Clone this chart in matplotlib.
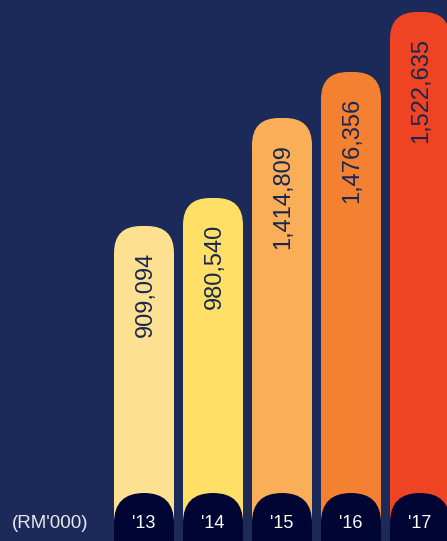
import matplotlib.pyplot as plt
from matplotlib.patches import FancyBboxPatch

plt.rcParams['font.family'] = ['Liberation Sans', 'DejaVu Sans']

# Chart data
years = ["'13", "'14", "'15", "'16", "'17"]
values = [909094, 980540, 1414809, 1476356, 1522635]
# drawn bar heights as they appear in the source (not to scale with values)
bar_heights = [315, 343, 423, 469, 529]
bar_colors = ['#FEE190', '#FFDF66', '#FBAE58', '#F48032', '#EF4424']
unit_label = "(RM'000)"

BG = '#1B2A58'
CAP = '#000533'

W, H = 447, 541
fig = plt.figure(figsize=(W / 100, H / 100), dpi=100)
fig.patch.set_facecolor(BG)
ax = fig.add_axes([0, 0, 1, 1])
ax.set_facecolor(BG)

pitch = 69.0          # pixels between bar centres
first_center = 144.0  # pixel x of the first bar
bar_w = 60 / pitch
ax.set_xlim(-first_center / pitch, (W - first_center) / pitch)
ax.set_ylim(0, H)
ax.axis('off')

aspect = pitch  # y units per pixel / x units per pixel

for i, (h, val, col, yr) in enumerate(zip(bar_heights, values, bar_colors, years)):
    left = i - bar_w / 2
    # main bar with rounded top (bottom corners hidden below axis)
    bar = FancyBboxPatch((left, -60), bar_w, h + 60,
                         boxstyle=f"round,pad=0,rounding_size={27 / pitch}",
                         mutation_aspect=aspect, facecolor=col, edgecolor='none')
    ax.add_patch(bar)
    # dark cap at the bottom holding the year
    cap = FancyBboxPatch((left, -60), bar_w, 48 + 60,
                         boxstyle=f"round,pad=0,rounding_size={bar_w / 2}",
                         mutation_aspect=aspect, facecolor=CAP, edgecolor='none')
    ax.add_patch(cap)
    ax.text(i, 17.5, yr, color='white', fontsize=13, ha='center', va='center')
    ax.text(i + 0.02, h - 26, f"{val:,}", color='#18264F', fontsize=17, rotation=90,
            ha='center', va='top')

ax.text(-first_center / pitch + 50 / pitch, 17.5, unit_label, color='#E8E8EE',
        fontsize=13.5, ha='center', va='center')

fig.savefig('out.png', dpi=100, facecolor=BG)
